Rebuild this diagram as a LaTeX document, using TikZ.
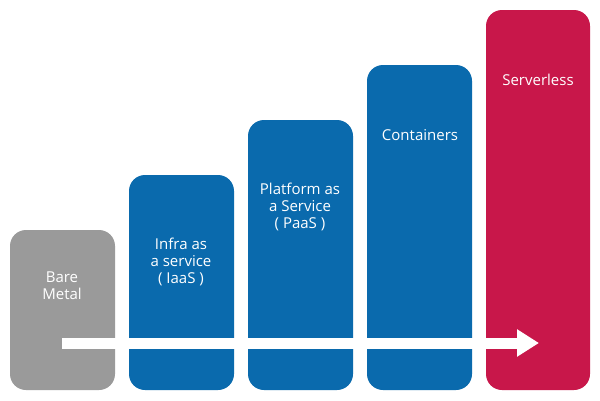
\documentclass[tikz,border=0pt]{standalone}
\usepackage{fontspec}
\setmainfont{Open Sans}
\usetikzlibrary{arrows.meta}
\definecolor{barblue}{HTML}{0A6AAD}
\definecolor{bargray}{HTML}{9A9A9A}
\definecolor{barred}{HTML}{C8174A}
\begin{document}
\begin{tikzpicture}[x=1pt,y=-1pt,
  bar/.style={rounded corners=16pt},
  lbl/.style={text=white,font=\fontsize{15}{17}\selectfont,align=center}]
\useasboundingbox (0,0) rectangle (600,400);
\fill[white] (0,0) rectangle (600,400);
\fill[bar,bargray] (10,230) rectangle (115,390);
\fill[bar,barblue] (129,175) rectangle (234,390);
\fill[bar,barblue] (248,120) rectangle (353,390);
\fill[bar,barblue] (367,65) rectangle (472,390);
\fill[bar,barred] (486,10) rectangle (590,390);
\node[lbl] (bm) at (62,286) {Bare\\Metal};
\node[lbl] (iaas) at (181,262) {Infra as\\a service\\( IaaS )};
\node[lbl] (paas) at (300,207) {Platform as\\a Service\\( PaaS )};
\node[lbl] (cont) at (420,135) {Containers};
\node[lbl] (sl) at (538,80) {Serverless};
\coordinate (a1) at (62,343);
\coordinate (a2) at (539,343);
\draw[white,line width=11pt,-{Triangle[length=22pt,width=26pt]}] (a1) -- (a2);
\end{tikzpicture}
\end{document}
